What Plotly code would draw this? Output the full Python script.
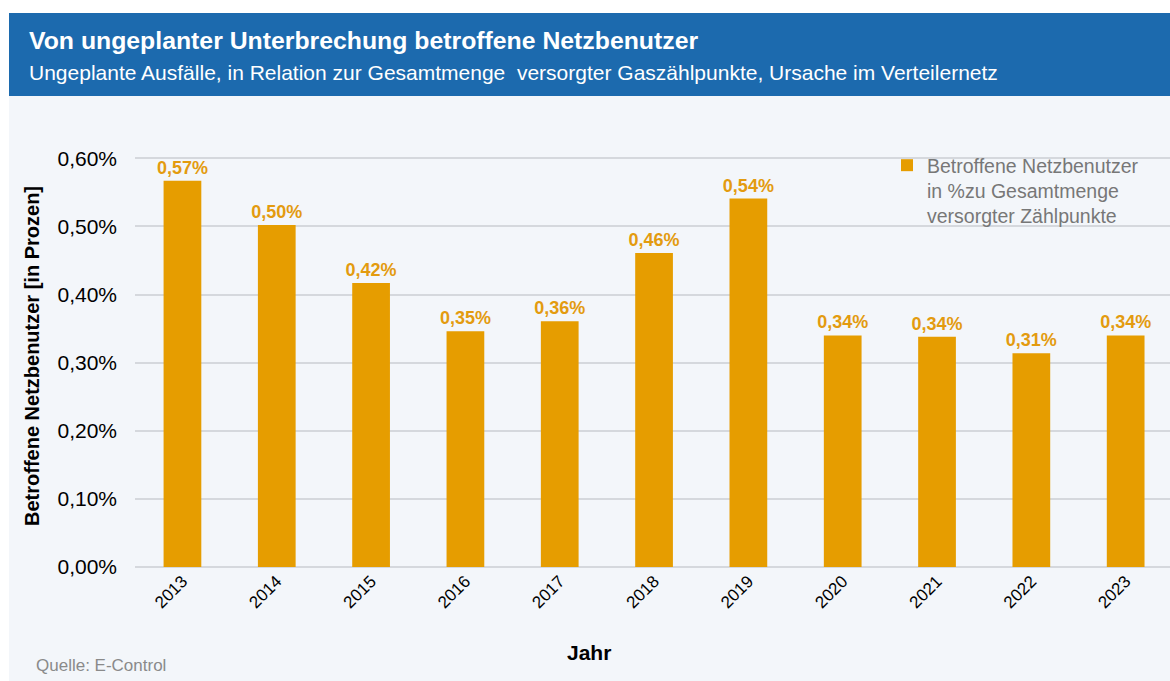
import plotly.graph_objects as go

years = ["2013", "2014", "2015", "2016", "2017", "2018", "2019", "2020", "2021", "2022", "2023"]
values_pct = [0.567, 0.502, 0.417, 0.346, 0.361, 0.461, 0.541, 0.340, 0.338, 0.314, 0.340]
y_ticks = [0.0, 0.1, 0.2, 0.3, 0.4, 0.5, 0.6]
y_tick_labels = [f"{v:.2f}%".replace(".", ",") for v in y_ticks]

title = "Von ungeplanter Unterbrechung betroffene Netzbenutzer"
subtitle = "Ungeplante Ausfälle, in Relation zur Gesamtmenge  versorgter Gaszählpunkte, Ursache im Verteilernetz"
series_name = "Betroffene Netzbenutzer<br>in %zu Gesamtmenge<br>versorgter Zählpunkte"
y_title = "Betroffene Netzbenutzer [in Prozen]"
x_title = "Jahr"
source = "Quelle: E-Control"

W, H = 1170, 681
PL, PR, PT, PB = 135, 1170, 157, 567
pw, ph = PR - PL, PB - PT

def px(x):
    return (x - PL) / pw

def py(y):
    return (PB - y) / ph

BAR = "#E69D00"
TXT = "#E39B0F"
FONT = "Liberation Sans, Arial, sans-serif"

fig = go.Figure()
fig.add_trace(go.Bar(
    x=years, y=values_pct, name=series_name,
    marker=dict(color=BAR, line=dict(width=0)),
    texttemplate="%{y:.2f}%", textposition="outside", constraintext="none",
    textfont=dict(color=TXT, size=18, family=FONT, weight="bold"),
    cliponaxis=False, showlegend=True,
))

fig.update_layout(
    width=W, height=H,
    margin=dict(l=PL, r=W - PR, t=PT, b=H - PB, pad=0),
    paper_bgcolor="white", plot_bgcolor="#F3F6FA",
    separators=",.",
    bargap=0.6,
    font=dict(family=FONT, color="black"),
    showlegend=True,
    legend=dict(x=px(887), y=py(146), xanchor="left", yanchor="top",
                bgcolor="rgba(0,0,0,0)", font=dict(size=19.5, color="#777777", family=FONT),
                valign="top", itemwidth=30, tracegroupgap=0),
    xaxis=dict(range=[-0.503, 10.47], tickangle=-45, tickfont=dict(size=17, color="black"),
               showgrid=False, showline=False, ticks="", zeroline=False),
    yaxis=dict(range=[0, 0.602], tickvals=y_ticks, ticktext=y_tick_labels,
               tickfont=dict(size=21, color="black"), showgrid=True, gridcolor="#D5D8DD",
               gridwidth=1.5, zeroline=True, zerolinecolor="#D5D8DD", zerolinewidth=1.5,
               ticklabelstandoff=17, showline=False),
    shapes=[
        dict(type="rect", xref="paper", yref="paper", x0=px(9), x1=px(1170), y0=py(96), y1=py(681),
             fillcolor="#F3F6FA", line=dict(width=0), layer="below"),
        dict(type="rect", xref="paper", yref="paper", x0=px(9), x1=px(1170), y0=py(13), y1=py(96),
             fillcolor="#1C6AAE", line=dict(width=0), layer="below"),
    ],
    annotations=[
        dict(text=title, x=px(27), y=py(41), xref="paper", yref="paper", xanchor="left", yanchor="middle",
             showarrow=False, font=dict(size=24.8, color="white", family=FONT, weight="bold")),
        dict(text=subtitle, x=px(27), y=py(72), xref="paper", yref="paper", xanchor="left", yanchor="middle",
             showarrow=False, font=dict(size=21, color="white", family=FONT)),
        dict(text=y_title, x=px(32), y=py(356), xref="paper", yref="paper", xanchor="center", yanchor="middle",
             textangle=-90, showarrow=False, font=dict(size=20, color="black", family=FONT, weight="bold")),
        dict(text=x_title, x=px(589), y=py(652), xref="paper", yref="paper", xanchor="center", yanchor="middle",
             showarrow=False, font=dict(size=21, color="black", family=FONT, weight="bold")),
        dict(text=source, x=px(34), y=py(665), xref="paper", yref="paper", xanchor="left", yanchor="middle",
             showarrow=False, font=dict(size=17, color="#8A8A8A", family=FONT)),
    ],
)

fig.write_html("out.html", config={"displayModeBar": False},
               post_script="document.body.style.margin='0px';document.body.style.overflow='hidden';")
